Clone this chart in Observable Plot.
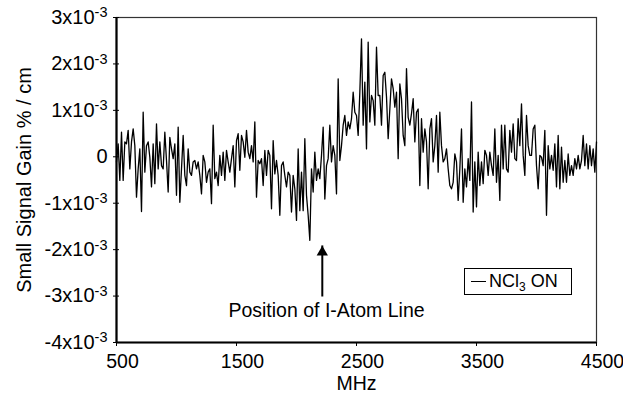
<!DOCTYPE html>
<html><head><meta charset="utf-8">
<script src="https://cdn.jsdelivr.net/npm/d3@7"></script>
<script src="https://cdn.jsdelivr.net/npm/@observablehq/plot@0.6"></script>
<style>
html,body{margin:0;padding:0;background:#fff;}
#wrap{position:relative;width:623px;height:394px;font-family:"Liberation Sans",Arial,sans-serif;}
#legend{position:absolute;left:464px;top:268px;width:108px;height:27px;box-sizing:border-box;border:1px solid #000;font-size:18px;display:flex;align-items:center;padding-left:6px;background:#fff;white-space:nowrap}
#legend .sw{display:inline-block;width:15px;border-top:1.5px solid #000;margin-right:3px}
#legend sub{font-size:12px;vertical-align:-4px;line-height:0}
</style></head><body><div id="wrap"></div>
<script>
// Sampling grid of the trace (MHz)
const startMHz = 500;
const stepMHz = 4000 / 288;
// Small signal gain, in units of 1e-3 %/cm
const gainE3 = [
 -0.11,0.28,-0.51,0.53,-0.51,0.32,0.28,0.57,-0.26,0.32,0.60,0.24,-0.87,-0.26,0.17,-1.18,0.96,-0.33,0.24,0.32,
 -0.01,-0.65,0.28,-0.58,0.71,-0.26,0.32,-0.19,-0.26,0.53,-0.08,-0.76,0.42,0.17,-0.04,0.28,-0.83,0.64,-0.98,-0.26,
 0.46,-0.40,-0.62,0.17,-0.33,-0.40,-0.11,-0.08,-0.26,
 -0.11,-0.40,-0.80,0.03,-0.11,-0.55,-0.33,-0.26,-1.01,0.68,-0.47,-0.33,-0.62,0.03,-0.40,0.10,-0.51,0.14,-0.11,-0.33,
 -0.04,0.24,-0.65,0.35,0.50,-0.29,0.46,0.32,-0.01,0.57,0.10,-0.04,0.24,-0.11,0.75,-0.87,-0.08,-0.15,-0.04,-0.62,
 0.14,-0.40,0.14,0.03,-1.12,0.35,-0.37,
 -0.08,-0.40,-1.26,-0.19,-0.11,-0.40,-0.65,-0.33,-0.40,-1.19,-0.40,-0.69,-1.37,0.17,-1.16,-0.33,-1.16,0.39,-0.83,-1.26,
 -1.80,-0.26,-0.76,0.10,-0.51,-0.26,-0.47,0.03,0.64,-0.91,-0.19,-0.04,0.68,-0.11,0.24,0.03,-0.80,1.68,-0.08,0.24,
 0.68,0.89,0.46,0.75,0.60,0.82,1.39,0.96,
 0.89,0.46,1.39,2.54,0.68,1.61,0.17,2.47,0.75,1.32,1.21,0.68,2.36,1.32,1.32,0.68,1.75,1.82,1.29,0.39,
 1.03,1.68,1.47,1.07,1.39,-0.04,1.57,1.25,0.46,0.24,1.90,0.85,0.68,0.93,1.25,0.32,0.96,1.03,-0.62,0.82,
 0.10,0.60,0.32,-0.69,0.60,0.82,-0.11,0.24,
 0.89,-0.33,0.96,0.24,-0.11,-0.04,0.17,-0.26,-0.62,-0.69,-0.55,0.06,-0.11,-0.94,-0.26,0.60,-0.98,-0.26,-0.65,-0.04,
 -0.51,1.18,-1.19,-0.11,-1.08,0.10,-0.62,-0.11,-0.58,0.14,0.03,-0.40,0.10,-0.19,-0.40,0.60,-0.55,0.03,-0.94,0.68,
 -0.26,0.68,-0.26,-0.33,0.57,0.10,0.71,-0.04,
 -0.08,0.82,0.24,1.14,0.03,-0.40,0.89,0.24,0.03,0.03,0.60,0.68,-0.19,-0.69,0.03,-0.01,-0.19,0.57,-1.26,0.24,
 -0.26,0.03,-0.29,0.28,-0.65,0.46,-0.69,0.21,-0.55,-0.08,-0.55,0.06,-0.40,-0.19,-0.40,-0.04,-0.26,0.03,-0.26,-0.08,
 0.46,-0.19,0.28,-0.26,0.24,-0.19,0.17,-0.33,0.32
];
const xDomain = [500, 4500];
const yDomain = [-4, 3];
const xTicks = [500, 1500, 2500, 3500, 4500];
const yTicks = [-4, -3, -2, -1, 0, 1, 2, 3];
const xLabel = "MHz";
const yLabel = "Small Signal Gain % / cm";
const seriesLabel = ["NCl", "3", " ON"];
const noteText = ["Position of I-Atom Line"];
const noteMHz = [2250];
const noteGain = [-3.32];
const arrowMHz = [2215];
const arrowTail = [-3.02];
const arrowTip = [-1.92];

const data = gainE3.map((g, i) => ({mhz: startMHz + i * stepMHz, gain: g}));
const arrows = arrowMHz.map((m, i) => ({mhz: m, tail: arrowTail[i], tip: arrowTip[i]}));
const notes = noteText.map((t, i) => ({text: t, mhz: noteMHz[i], gain: noteGain[i]}));
const fmtY = d => d === 0 ? "0" : `${d}x10^-3`;

const chart = Plot.plot({
  width: 623, height: 394,
  marginLeft: 116, marginRight: 27, marginTop: 17, marginBottom: 52,
  style: {fontFamily: "Liberation Sans, Arial, sans-serif", fontSize: "19.5px", background: "white", color: "black", overflow: "visible"},
  x: {domain: xDomain},
  y: {domain: yDomain},
  marks: [
    Plot.frame({stroke: "#333", strokeWidth: 1.2}),
    Plot.axisX({ticks: xTicks, tickSize: 4, tickFormat: () => "", label: null}),
    Plot.axisX({ticks: xTicks, tickSize: 0, tickPadding: 12, dx: 6, tickFormat: d => String(d), label: null}),
    Plot.axisX({ticks: [], label: xLabel, labelAnchor: "center", labelArrow: "none", labelOffset: 47}),
    Plot.axisY({ticks: yTicks, tickSize: 3, tickPadding: 6, tickFormat: fmtY, fontSize: 20, label: yLabel, labelAnchor: "center", labelArrow: "none", labelOffset: 100}),
    Plot.axisY({ticks: yTicks, tickSize: -3, tickFormat: () => "", label: null}),
    Plot.line(data, {x: "mhz", y: "gain", stroke: "black", strokeWidth: 1.3}),
    Plot.ruleX([xDomain[0]], {stroke: "black", strokeWidth: 2.2}),
    Plot.ruleY([yDomain[0]], {stroke: "black", strokeWidth: 2.2}),
    Plot.ruleX(arrows, {x: "mhz", y1: "tail", y2: "tip", stroke: "black", strokeWidth: 2}),
    Plot.dot(arrows, {x: "mhz", y: "tip", symbol: "triangle", r: 4.2, fill: "black", stroke: "none", dy: 6.4}),
    Plot.text(notes, {x: "mhz", y: "gain", text: "text", fontSize: 19.5, fill: "black", textAnchor: "middle"})
  ]
});

d3.select(chart).selectAll('g[aria-label="y-axis tick label"] text').each(function () {
  const t = this.textContent;
  if (t.includes("^")) {
    const [m, e] = t.split("^");
    const s = d3.select(this);
    s.text(m);
    s.append("tspan").attr("dy", "-0.45em").attr("font-size", "14.5px").text(e);
  }
});

const wrap = document.getElementById("wrap");
wrap.appendChild(chart);
const lg = document.createElement("div");
lg.id = "legend";
lg.innerHTML = `<span class="sw"></span><span>${seriesLabel[0]}<sub>${seriesLabel[1]}</sub>${seriesLabel[2]}</span>`;
wrap.appendChild(lg);
</script></body></html>
